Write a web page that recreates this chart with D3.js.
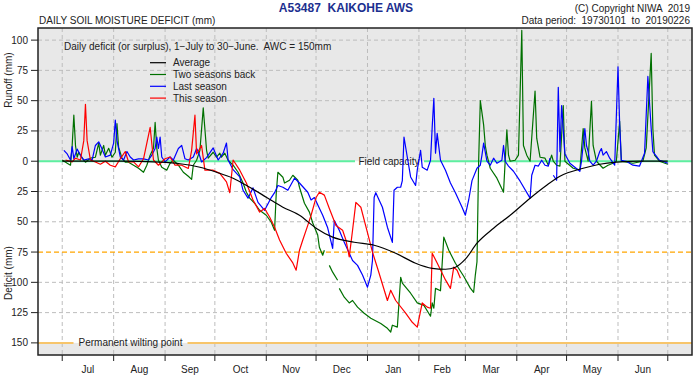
<!DOCTYPE html>
<html>
<head>
<meta charset="utf-8">
<script src="https://cdn.jsdelivr.net/npm/d3@7"></script>
<style>
  body { margin: 0; background: #fff; }
  text { font-family: "Liberation Sans", Arial, sans-serif; font-size: 10px; fill: #222; }
</style>
</head>
<body>
<svg id="chart" width="700" height="379"></svg>
<script>
// Month boundaries (days since 1 July) and labels
const monthStarts = [0, 31, 62, 92, 123, 153, 184, 215, 243, 274, 304, 335, 365];
const monthLabels = ["Jul", "Aug", "Sep", "Oct", "Nov", "Dec", "Jan", "Feb", "Mar", "Apr", "May", "Jun"];
// y ticks: positive = runoff (surplus), negative = deficit
const yTicks = [100, 75, 50, 25, 0, -25, -50, -75, -100, -125, -150];

const seriesNames = ["Average", "Two seasons back", "Last season", "This season"];
const seriesColors = ["#000000", "#007000", "#0000ff", "#ff0000"];

// [day, mm] pairs, null = missing data
const average = [[0,0],[35,0],[59,-0.8],[71,-2.1],[83,-5],[93,-9.1],[103,-14],[113,-21.5],[123,-29.7],[133,-38],
  [143,-44.6],[153,-55.3],[163,-62.7],[176,-66.9],[188,-69.4],[201,-76],[213,-84.2],[223,-88.4],[231,-89.2],
  [237,-87.5],[243,-80.9],[250,-67.7],[260,-55.3],[270,-44.6],[282,-30.5],[292,-19.8],[300,-12.4],[314,-5.8],
  [324,-2.5],[334,-0.8],[348,0],[365,0]];

const twoSeasonsBack = [[0,1],[3,-1.7],[5,-3.3],[6,13],[7,38],[8,13],[9,3.3],[10,7.4],[12,2.5],[14,-0.8],[17,2.5],
  [20,3.3],[22,15],[23,5],[25,13],[26,5],[28,10.7],[30,3.3],[32,7.4],[33,31],[34,11.6],[36,2.5],[38,-0.8],[40,-0.8],
  [43,-3.3],[46,-5.8],[49,-9.1],[51,-3.3],[53,5],[55,10.7],[56,32],[57,10.7],[58,0.8],[60,-5],[63,-7.4],[65,-1.7],
  [67,0.8],[70,-3.3],[73,-9.1],[76,-12.4],[78,-15],[79,-3.3],[81,0.8],[83,9],[85,44],[87,9],[88,2.5],[91,7.4],
  [93,3.3],[95,6.6],[96,3.3],[98,6.6],[100,0.8],[103,-3.3],[106,-9.1],[109,-18],[111,-25.6],[113,-30.5],[116,-34.7],
  [119,-40.5],[123,-44.6],[126,-50.4],[128,-57],[129,-26.4],[130,-9.1],[133,-13.2],[134,-18],[137,-15.7],[139,-11.6],
  [142,-15.7],[143,-21.5],[146,-34.7],[149,-42],[151,-51],[154,-61],[155,-71],[157,-77.6],[158,-73.5], null,
  [161,-86],[163,-91.6],[166,-98.3], null,
  [167,-105],[170,-112.3],[173,-117],[175,-115],[178,-120.5],[182,-125.5],[186,-129.6],[192,-134],[196,-138],
  [198,-141],[199,-135.4],[202,-137],[204,-95.8],[205,-100.7],[210,-109],[214,-117],[218,-119],[222,-128],[223,-117],
  [224,-121.4],[225,-105],[228,-107],[230,-62.7],[233,-73.5],[237,-84.2],[242,-95],[246,-104.8],[248,-108.2],
  [249,-94],[250,-83],[251,0],[252,50],[254,30],[255,13],[256,5],[258,-5.8],[262,-14],[266,-25.6],[268,26],[269,5],
  [270,0],[273,0.8],[275,5],[277,108],[278,13],[280,5],[282,0],[285,58],[286,19],[288,3.3],[291,2.5],[293,-3.3],
  [295,5],[296,0],[298,-3.3],[300,-4.1],[302,46],[303,0],[308,-5.8],[312,-7.4],[314,27],[315,11],[317,0],[319,49.5],
  [320,13],[322,0],[326,-5.8],[329,-3.3],[332,-1.7],[334,0],[336,33],[337,0],[344,-1.7],[350,0],[352,11],[355,89],
  [356,27],[357,5],[360,0],[365,-2.5]];

const lastSeason = [[1,9],[3,6],[5,1],[6,12],[7,2],[9,10],[11,5],[13,1],[16,2],[18,1],[20,13],[22,16],[24,10],
  [26,3.5],[29,5],[31,15],[32,34],[33,17],[35,3.5],[37,1],[39,8],[41,3.5],[43,1],[46,2],[49,2],[52,1],[54,5],
  [56,10.5],[57,20],[58,10.5],[59,20],[60,3.5],[62,-0.6],[65,3.5],[67,1],[70,10.5],[72,13],[74,2],[76,1],[79,3.5],
  [81,10.5],[82,8],[84,-0.6],[87,3],[91,11],[94,1],[97,6.6],[99,15],[100,1],[103,-7],[107,-13],[109,-24],
  [112,-30.5],[115,-22],[118,-34],[122,-40.5],[126,-30],[128,-26],[130,-20],[133,-21.5],[136,-24],[140,-14],
  [143,-18],[148,-25.6],[150,-32],[152,-30],[154,-36],[157,-44.6],[160,-55],[163,-72],[164,-49],[167,-57],
  [170,-67],[173,-76],[175,-82],[178,-86],[181,-94],[184,-104],[186,-94],[187,-82],[188,-30],[189,-26],[193,-38],
  [196,-54.5],[199,-67],[200,-24],[202,-21.5],[204,-21.5],[205,-16],[206,20],[208,3.3],[210,-13],[213,-20],
  [214,-7.4],[216,9],[217,-5],[220,-7.4],[222,0.8],[223,28],[224,52],[225,6.6],[226,23],[228,0.8],[231,-7.4],
  [234,-18],[237,-26],[241,-38],[243,-44.6],[245,-32],[247,-16],[250,-5.8],[252,-3.3],[253,5],[254,15],[256,0],
  [258,-3.3],[260,2.5],[262,-1.7],[265,0.8],[266,13],[267,0],[269,-4],[272,-8.3],[276,-16.5],[282,-30.5],
  [283,-11.6],[285,-3.3],[287,-4],[289,0.8],[291,-3.3],[293,-4],[294,2.5], null,
  [296,-11.6],[298,-15.7],[299,61],[300,8],[301,46],[303,6],[306,-1.7],[312,-8.3],[313,0],[315,27],[316,13],[317,8],
  [318,0],[320,-3.3],[322,0],[324,8],[325,10.5],[326,5],[328,8],[330,2.5],[333,-3.3],[335,78],[336,30],[337,0.8],
  [340,0],[344,-3.3],[348,-4],[351,6.6],[353,70],[355,27],[356,8],[359,2.5],[360,0.8],[362,0],[365,-1.7]];

const thisSeason = [[2,1],[6,-0.6],[8,2.5],[11,1],[13,17],[14,47],[15,17],[17,1],[20,-0.6],[23,-2.5],[26,0],
  [29,-3.3],[32,-4.7],[35,2],[38,8],[40,-0.6],[43,-0.6],[46,-4.7],[49,2],[53,28],[55,1],[58,-3.3],[62,2],[65,3.5],
  [68,-3.3],[72,-3.3],[76,-6],[78,9],[80,38],[81,6],[84,13],[86,-7.4],[91,-7.4],[95,-10],[99,-17],[101,-26],[103,1],
  [107,-7.4],[111,-18],[115,-32],[119,-42],[122,-39],[125,-46],[128,-54.5],[131,-65],[135,-76],[139,-84],[141,-90],
  [143,-73.5],[145,-65],[148,-53],[150,-44.6],[153,-30],[155,-25.6],[158,-28],[161,-39],[165,-53],[169,-57],
  [171,-65],[173,-79],[175,-57],[177,-34],[180,-38],[184,-59],[187,-75],[191,-92.5],[196,-115],[198,-106.5],
  [201,-115],[207,-125.5],[211,-133],[214,-137],[217,-117],[220,-120.5],[222,-121.4],[223,-76],[226,-84],[231,-98],
  [234,-105],[236,-87.5],[238,-90],[240,-96.6]];

const svg = d3.select("#chart");

// Plot frame in pixels
const plotLeft = 38, plotRight = 692, plotTop = 28, plotBottom = 355;

// R-style scales (4% padding around 0..365 and -150..100)
const x = d3.scaleLinear().domain([-14.6, 379.6]).range([plotLeft, plotRight]);
const y = d3.scaleLinear().domain([110, -160]).range([plotTop, plotBottom]);

// Grey background for the runoff zone and below wilting point
svg.append("rect")
  .attr("x", plotLeft).attr("y", plotTop)
  .attr("width", plotRight - plotLeft).attr("height", y(0) - plotTop)
  .attr("fill", "#e8e8e8");
svg.append("rect")
  .attr("x", plotLeft).attr("y", y(-150))
  .attr("width", plotRight - plotLeft).attr("height", plotBottom - y(-150))
  .attr("fill", "#e8e8e8");

// Dashed grid
const grid = svg.append("g")
  .attr("stroke", "#bdbdbd")
  .attr("stroke-dasharray", "4,3")
  .attr("stroke-width", 1);
grid.selectAll("line.h")
  .data(yTicks.filter(d => d !== 0 && d !== -75 && d !== -150))
  .enter().append("line")
  .attr("x1", plotLeft).attr("x2", plotRight)
  .attr("y1", d => y(d)).attr("y2", d => y(d));
grid.selectAll("line.v")
  .data(monthStarts)
  .enter().append("line")
  .attr("x1", d => x(d)).attr("x2", d => x(d))
  .attr("y1", plotTop).attr("y2", plotBottom);

// 50% AWC line
svg.append("line")
  .attr("x1", plotLeft).attr("x2", plotRight)
  .attr("y1", y(-75)).attr("y2", y(-75))
  .attr("stroke", "#ffa500")
  .attr("stroke-width", 1.2)
  .attr("stroke-dasharray", "5,3");

// Field capacity line, broken around its label
const fcX = 389;
[[plotLeft, fcX - 34], [fcX + 35, plotRight]].forEach(s => {
  svg.append("line")
    .attr("x1", s[0]).attr("x2", s[1])
    .attr("y1", y(0)).attr("y2", y(0))
    .attr("stroke", "#5eefa0")
    .attr("stroke-width", 2);
});
svg.append("text")
  .attr("x", fcX).attr("y", y(0)).attr("dy", "0.35em")
  .attr("text-anchor", "middle")
  .text("Field capacity");

// Permanent wilting point line, broken around its label
const pwpX = 130.5;
[[plotLeft, pwpX - 57], [pwpX + 57, plotRight]].forEach(s => {
  svg.append("line")
    .attr("x1", s[0]).attr("x2", s[1])
    .attr("y1", y(-150)).attr("y2", y(-150))
    .attr("stroke", "#f7c56b")
    .attr("stroke-width", 2);
});
svg.append("text")
  .attr("x", pwpX).attr("y", y(-150)).attr("dy", "0.35em")
  .attr("text-anchor", "middle")
  .text("Permanent wilting point");

// Series lines
const line = d3.line()
  .defined(d => d !== null)
  .x(d => x(d[0]))
  .y(d => y(d[1]));

const plotted = [
  { data: twoSeasonsBack, color: seriesColors[1], curve: d3.curveLinear },
  { data: lastSeason, color: seriesColors[2], curve: d3.curveLinear },
  { data: thisSeason, color: seriesColors[3], curve: d3.curveLinear },
  { data: average, color: seriesColors[0], curve: d3.curveMonotoneX }
];
plotted.forEach(s => {
  svg.append("path")
    .attr("d", line.curve(s.curve)(s.data))
    .attr("fill", "none")
    .attr("stroke", s.color)
    .attr("stroke-width", 1.2)
    .attr("stroke-linejoin", "round");
});

// Frame
svg.append("rect")
  .attr("x", plotLeft).attr("y", plotTop)
  .attr("width", plotRight - plotLeft).attr("height", plotBottom - plotTop)
  .attr("fill", "none")
  .attr("stroke", "#222")
  .attr("stroke-width", 1.5);

// y axis ticks and labels (absolute values)
svg.selectAll("line.ytick")
  .data(yTicks)
  .enter().append("line")
  .attr("x1", plotLeft - 7).attr("x2", plotLeft)
  .attr("y1", d => y(d)).attr("y2", d => y(d))
  .attr("stroke", "#222");
svg.selectAll("text.ylab")
  .data(yTicks)
  .enter().append("text")
  .attr("x", plotLeft - 10).attr("y", d => y(d)).attr("dy", "0.35em")
  .attr("text-anchor", "end")
  .text(d => Math.abs(d));

// x axis ticks at month starts, labels mid-month
svg.selectAll("line.xtick")
  .data(monthStarts)
  .enter().append("line")
  .attr("x1", d => x(d)).attr("x2", d => x(d))
  .attr("y1", plotBottom).attr("y2", plotBottom + 6)
  .attr("stroke", "#222");
svg.selectAll("text.xlab")
  .data(monthLabels)
  .enter().append("text")
  .attr("x", (d, i) => x((monthStarts[i] + monthStarts[i + 1]) / 2))
  .attr("y", 373)
  .attr("text-anchor", "middle")
  .text(d => d);

// Axis titles
svg.append("text")
  .attr("transform", "translate(11.5,80) rotate(-90)")
  .attr("text-anchor", "middle")
  .text("Runoff (mm)");
svg.append("text")
  .attr("transform", "translate(11.5,273) rotate(-90)")
  .attr("text-anchor", "middle")
  .text("Deficit (mm)");

// Header texts
svg.append("text")
  .attr("x", 346).attr("y", 12)
  .attr("text-anchor", "middle")
  .style("font-size", "12px")
  .style("font-weight", "bold")
  .style("fill", "#1c2f8f")
  .attr("xml:space", "preserve")
  .text("A53487  KAIKOHE AWS");
svg.append("text")
  .attr("x", 690).attr("y", 12)
  .attr("text-anchor", "end")
  .attr("xml:space", "preserve")
  .text("(C) Copyright NIWA  2019");
svg.append("text")
  .attr("x", 690).attr("y", 24)
  .attr("text-anchor", "end")
  .attr("xml:space", "preserve")
  .text("Data period:  19730101  to  20190226");
svg.append("text")
  .attr("x", 39).attr("y", 24)
  .text("DAILY SOIL MOISTURE DEFICIT (mm)");

// Legend
svg.append("text")
  .attr("x", 64).attr("y", 50)
  .attr("xml:space", "preserve")
  .text("Daily deficit (or surplus), 1\u2212July to 30\u2212June.  AWC = 150mm");

const legend = svg.selectAll("g.legend")
  .data(seriesNames)
  .enter().append("g")
  .attr("transform", (d, i) => `translate(150,${62.7 + i * 11.8})`);
legend.append("line")
  .attr("x1", 0).attr("x2", 16)
  .attr("stroke", (d, i) => seriesColors[i])
  .attr("stroke-width", 1.2);
legend.append("text")
  .attr("x", 23).attr("dy", "0.35em")
  .text(d => d);
</script>
</body>
</html>
